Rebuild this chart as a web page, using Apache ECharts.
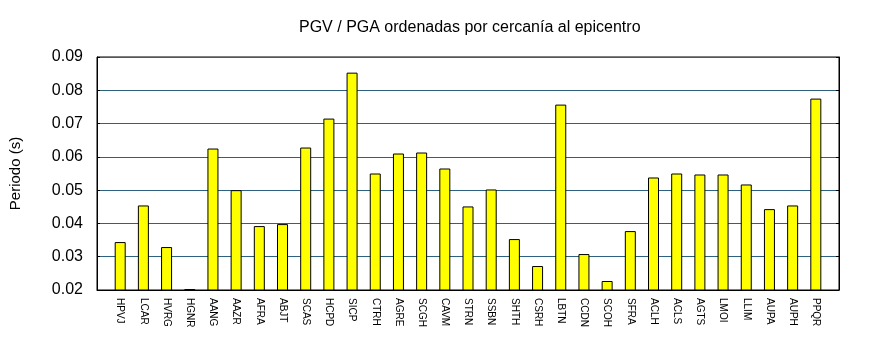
<!DOCTYPE html>
<html>
<head>
<meta charset="utf-8">
<script src="https://cdn.jsdelivr.net/npm/echarts@6/dist/echarts.min.js"></script>
<style>html,body{margin:0;padding:0;background:#fff;}#c{width:870px;height:350px;}</style>
</head>
<body>
<div id="c"></div>
<script>
const categories = ['HPVJ','LCAR','HVRG','HGNR','AANG','AAZR','AFRA','ABJT','SCAS','HCPD','SICP','CTRH','AGRE','SCGH','CAVM','STRN','SSBN','SHTH','CSRH','LBTN','CCDN','SCOH','SFRA','ACLH','ACLS','AGTS','LMOI','LLIM','AUPA','AUPH','PPQR'];
const values = [0.0344,0.0454,0.0329,0.0203,0.0625,0.0500,0.0392,0.0398,0.0628,0.0715,0.0853,0.0550,0.0610,0.0613,0.0565,0.0451,0.0502,0.0353,0.0272,0.0757,0.0308,0.0227,0.0377,0.0538,0.0550,0.0547,0.0547,0.0517,0.0443,0.0454,0.0775];
const yTicks = ['0.02','0.03','0.04','0.05','0.06','0.07','0.08','0.09'];
const titleText = 'PGV / PGA ordenadas por cercanía al epicentro';
const yName = 'Periodo (s)';

const cats = [''].concat(categories, ['']);
const vals = [null].concat(values, [null]);
const font = 'Liberation Sans, Arial, sans-serif';
const chart = echarts.init(document.getElementById('c'), null, {renderer:'canvas'});
chart.setOption({
  animation: false,
  title: {text: titleText, left: 294, top: 15, textStyle: {fontFamily: font, fontSize: 16, fontWeight: 'normal', color: '#000'}},
  grid: {left: 95, right: 31, top: 57, bottom: 60, show: true, borderColor: '#000', borderWidth: 1, backgroundColor: 'transparent'},
  xAxis: {
    type: 'category', data: cats, boundaryGap: false,
    axisLine: {lineStyle: {color: '#000', width: 1}},
    axisTick: {show: false},
    axisLabel: {interval: 0, rotate: -90, fontSize: 10, fontFamily: font, color: '#000', margin: 8}
  },
  yAxis: [{
    type: 'value', min: 0.02, max: 0.09, interval: 0.01,
    name: yName, nameLocation: 'middle', nameGap: 74,
    nameTextStyle: {fontFamily: font, fontSize: 15, color: '#000'},
    axisLine: {show: true, lineStyle: {color: '#000'}},
    axisTick: {show: true, inside: true, length: 3, lineStyle: {color: '#000'}},
    axisLabel: {fontFamily: font, fontSize: 16, color: '#000', margin: 14, formatter: v => yTicks[Math.round((v - 0.02) / 0.01)]},
    splitLine: {show: true, lineStyle: {color: '#2e6080', width: 1}}
  },{
    type: 'value', min: 0.02, max: 0.09, interval: 0.01, position: 'right',
    axisLine: {show: true, lineStyle: {color: '#000'}},
    axisTick: {show: true, inside: true, length: 3, lineStyle: {color: '#000'}},
    axisLabel: {show: false}, splitLine: {show: false}
  }],
  series: [{
    type: 'bar', data: vals, barWidth: 11,
    itemStyle: {color: '#ffff00', borderColor: '#000', borderWidth: 1}
  }]
});
</script>
</body>
</html>
